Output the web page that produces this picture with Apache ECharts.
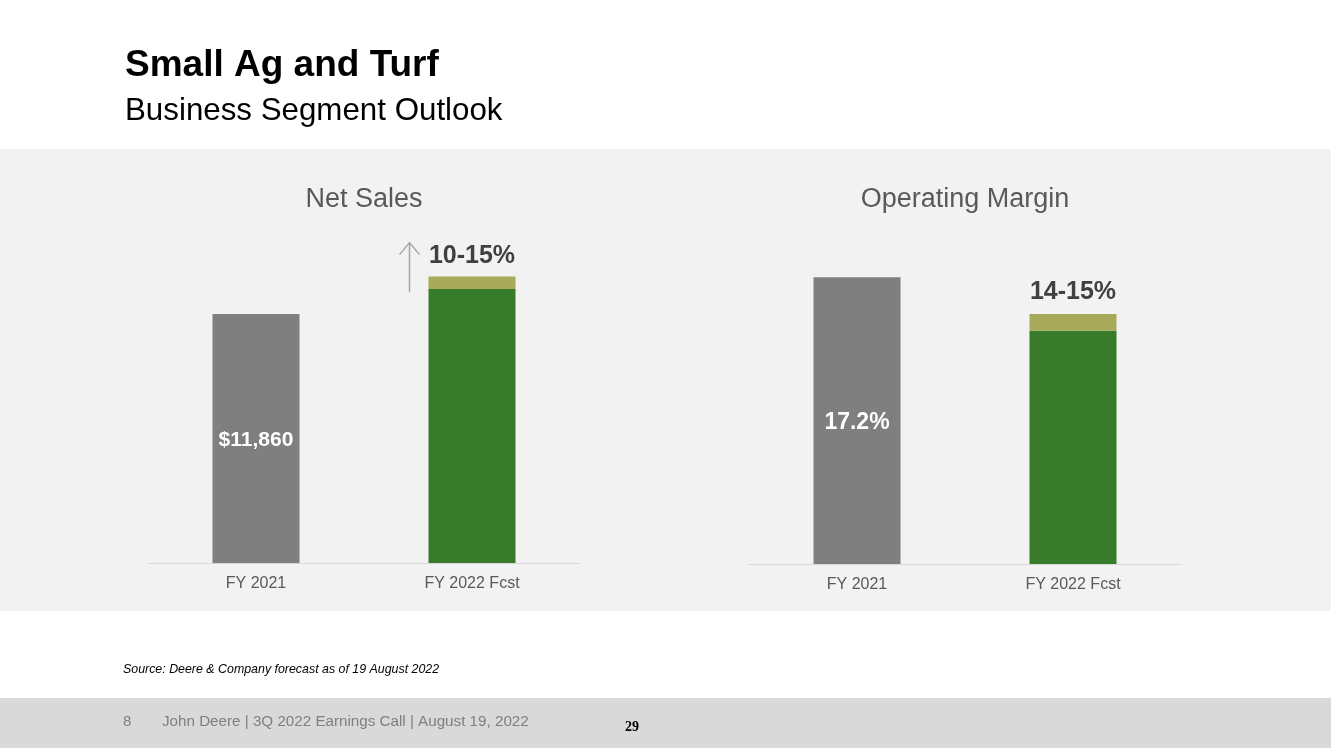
<!DOCTYPE html>
<html>
<head>
<meta charset="utf-8">
<script src="https://cdn.jsdelivr.net/npm/echarts@6/dist/echarts.min.js"></script>
<style>
html,body{margin:0;padding:0;background:#fff;}
#chart{width:1331px;height:748px;}
</style>
</head>
<body>
<div id="chart"></div>
<script>
// ---- data ----
var categories = ['FY 2021', 'FY 2022 Fcst'];
var netSales = [11860, 13046];          // FY2021 actual, FY2022 low end (+10%)
var netSalesHigh = [null, 13639];       // FY2022 high end (+15%)
var netSalesLabels = ['$11,860', ''];
var netSalesRangeLabel = '10-15%';
var opMargin = [17.2, 14.0];            // FY2021 actual, FY2022 low end
var opMarginHigh = [null, 15.0];        // FY2022 high end
var opMarginLabels = ['17.2%', ''];
var opMarginRangeLabel = '14-15%';

var FONT = '"Liberation Sans", Arial, sans-serif';
var GRAY = '#7f7f7f', GREEN = '#387c2b', OLIVE = '#a6aa5a';

function baseItems(vals) {
  return vals.map(function (v, i) {
    return { value: v, itemStyle: { color: i === 0 ? GRAY : GREEN } };
  });
}
function rangeItems(low, high) {
  return high.map(function (h, i) { return h == null ? null : +(h - low[i]).toFixed(2); });
}

var chart = echarts.init(document.getElementById('chart'), null, { renderer: 'canvas' });

var xAxisCommon = {
  type: 'category',
  data: categories,
  axisTick: { show: false },
  axisLine: { lineStyle: { color: '#d9d9d9', width: 1 } },
  axisLabel: { color: '#595959', fontSize: 16, fontFamily: FONT, margin: 13 }
};

var option = {
  animation: false,
  backgroundColor: '#ffffff',
  grid: [
    { left: 148, width: 432, top: 163, bottom: 185 },
    { left: 749, width: 432, top: 164, bottom: 184 }
  ],
  xAxis: [
    Object.assign({ gridIndex: 0 }, xAxisCommon),
    Object.assign({ gridIndex: 1 }, xAxisCommon)
  ],
  yAxis: [
    { gridIndex: 0, type: 'value', min: 0, max: 19050, show: false, splitLine: { show: false } },
    { gridIndex: 1, type: 'value', min: 0, max: 24, show: false, splitLine: { show: false } }
  ],
  title: [
    { text: 'Net Sales', left: 359, top: 181, textAlign: 'center',
      textStyle: { fontFamily: FONT, fontSize: 27, fontWeight: 'normal', color: '#595959' } },
    { text: 'Operating Margin', left: 960, top: 181, textAlign: 'center',
      textStyle: { fontFamily: FONT, fontSize: 27, fontWeight: 'normal', color: '#595959' } }
  ],
  series: [
    {
      type: 'bar', xAxisIndex: 0, yAxisIndex: 0, stack: 'ns', barWidth: 87,
      data: baseItems(netSales),
      label: {
        show: true, position: 'inside', offset: [0, 2], color: '#fff', fontFamily: FONT,
        fontSize: 21, fontWeight: 'bold',
        formatter: function (p) { return netSalesLabels[p.dataIndex]; }
      }
    },
    {
      type: 'bar', xAxisIndex: 0, yAxisIndex: 0, stack: 'ns', barWidth: 87,
      data: rangeItems(netSales, netSalesHigh),
      itemStyle: { color: OLIVE },
      label: {
        show: true, position: 'top', distance: 8, color: '#404040', fontFamily: FONT,
        fontSize: 25, fontWeight: 'bold',
        formatter: function () { return netSalesRangeLabel; }
      }
    },
    {
      type: 'bar', xAxisIndex: 1, yAxisIndex: 1, stack: 'om', barWidth: 87,
      data: baseItems(opMargin),
      label: {
        show: true, position: 'inside', offset: [0, 2], color: '#fff', fontFamily: FONT,
        fontSize: 23, fontWeight: 'bold',
        formatter: function (p) { return opMarginLabels[p.dataIndex]; }
      }
    },
    {
      type: 'bar', xAxisIndex: 1, yAxisIndex: 1, stack: 'om', barWidth: 87,
      data: rangeItems(opMargin, opMarginHigh),
      itemStyle: { color: OLIVE },
      label: {
        show: true, position: 'top', distance: 9, color: '#404040', fontFamily: FONT,
        fontSize: 25, fontWeight: 'bold',
        formatter: function () { return opMarginRangeLabel; }
      }
    }
  ],
  graphic: [
    { type: 'rect', z: -10, shape: { x: 0, y: 149, width: 1331, height: 462 }, style: { fill: '#f2f2f2' } },
    { type: 'rect', z: -10, shape: { x: 0, y: 698, width: 1331, height: 50 }, style: { fill: '#d9d9d9' } },
    { type: 'text', style: { text: 'Small Ag and Turf', x: 125, y: 66, fill: '#000',
        font: 'bold 37px ' + FONT, verticalAlign: 'middle', textVerticalAlign: 'middle' } },
    { type: 'text', style: { text: 'Business Segment Outlook', x: 125, y: 111, fill: '#000',
        font: '31.3px ' + FONT, verticalAlign: 'middle', textVerticalAlign: 'middle' } },
    { type: 'text', style: { text: 'Source: Deere & Company forecast as of 19 August 2022', x: 123, y: 670,
        fill: '#000', font: 'italic 12.4px ' + FONT, verticalAlign: 'middle', textVerticalAlign: 'middle' } },
    { type: 'text', style: { text: '8', x: 123, y: 722, fill: '#7f7f7f',
        font: '15px ' + FONT, verticalAlign: 'middle', textVerticalAlign: 'middle' } },
    { type: 'text', style: { text: 'John Deere | 3Q 2022 Earnings Call | August 19, 2022', x: 162, y: 722,
        fill: '#7f7f7f', font: '15.2px ' + FONT, verticalAlign: 'middle', textVerticalAlign: 'middle' } },
    { type: 'text', style: { text: '29', x: 632, y: 727, fill: '#000', align: 'center', textAlign: 'center',
        font: 'bold 14px "Liberation Serif", "Times New Roman", serif', verticalAlign: 'middle', textVerticalAlign: 'middle' } }
  ]
};

chart.setOption(option);

// growth arrow beside the forecast bar, positioned from the axis scale
var barPt = chart.convertToPixel({ xAxisIndex: 0, yAxisIndex: 0 }, [1, netSales[1]]);
var topPt = chart.convertToPixel({ xAxisIndex: 0, yAxisIndex: 0 }, [1, netSalesHigh[1]]);
var ax = barPt[0] - 62.5;
var yBottom = barPt[1] + 3;
var yTop = topPt[1] - 34;
chart.setOption({
  graphic: option.graphic.concat([
    { type: 'polyline', shape: { points: [[ax, yBottom], [ax, yTop]] },
      style: { stroke: '#a6a6a6', lineWidth: 1.5, fill: null } },
    { type: 'polyline', shape: { points: [[ax - 10, yTop + 12], [ax, yTop], [ax + 10, yTop + 12]] },
      style: { stroke: '#a6a6a6', lineWidth: 1.5, fill: null } }
  ])
});
</script>
</body>
</html>
